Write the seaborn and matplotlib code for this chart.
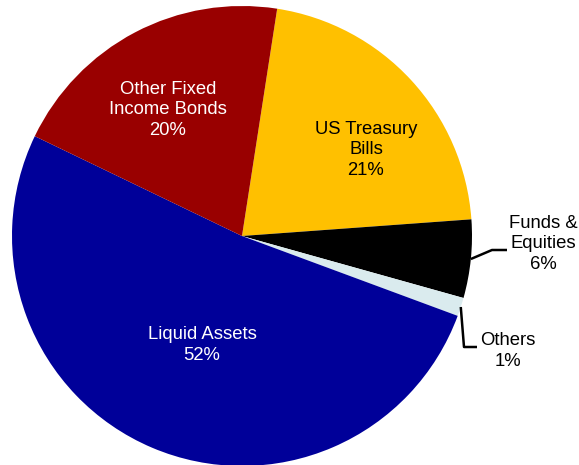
import numpy as np
import matplotlib
matplotlib.use("Agg")
import matplotlib.pyplot as plt
import seaborn as sns

sns.set_style("white")
plt.rcParams['font.family'] = ['Liberation Sans', 'DejaVu Sans']

# data, clockwise from the top
categories = ['US Treasury\nBills', 'Funds &\nEquities', 'Others', 'Liquid Assets', 'Other Fixed\nIncome Bonds']
shares = [21.4, 5.5, 1.3, 51.5, 20.3]
pct_labels = ['21%', '6%', '1%', '52%', '20%']
colors = ['#FFC000', '#000000', '#DAEBEE', '#000099', '#990000']

W, H = 579, 465
fig = plt.figure(figsize=(W / 100, H / 100), dpi=100)
ax = fig.add_axes([0, 0, 1, 1])

cx, cy, R = 242, H - 236, 230
wedges, _ = ax.pie(shares, colors=colors, startangle=81.2, counterclock=False,
                   center=(cx, cy), radius=R, wedgeprops=dict(linewidth=0))
ax.set_xlim(0, W)
ax.set_ylim(0, H)
ax.set_aspect('equal')
ax.axis('off')

# inside labels (pixel positions of text centres, y from top)
inside = {0: (366, 150, 'black'), 3: (202, 345, 'white'), 4: (168, 110, 'white')}
for i, (x, y, c) in inside.items():
    ax.text(x, H - y, categories[i] + '\n' + pct_labels[i], ha='center', va='center',
            color=c, fontsize=13.3, linespacing=1.25)

# outside labels with leader lines: (elbow, line end, text centre)
outside = {1: ((492, 250), (507, 250), (543, 244)),
           2: ((464, 347), (477, 347), (508, 351))}
for i, (elbow, end, txt) in outside.items():
    w = wedges[i]
    mid = np.deg2rad((w.theta1 + w.theta2) / 2)
    x0, y0 = cx + R * np.cos(mid), cy + R * np.sin(mid)
    ax.plot([x0, elbow[0], end[0]], [y0, H - elbow[1], H - end[1]], color='black', lw=1.8,
            solid_capstyle='butt')
    ax.text(txt[0], H - txt[1], categories[i] + '\n' + pct_labels[i], ha='center', va='center',
            color='black', fontsize=13.3, linespacing=1.25)

fig.savefig('out.png', dpi=100)
